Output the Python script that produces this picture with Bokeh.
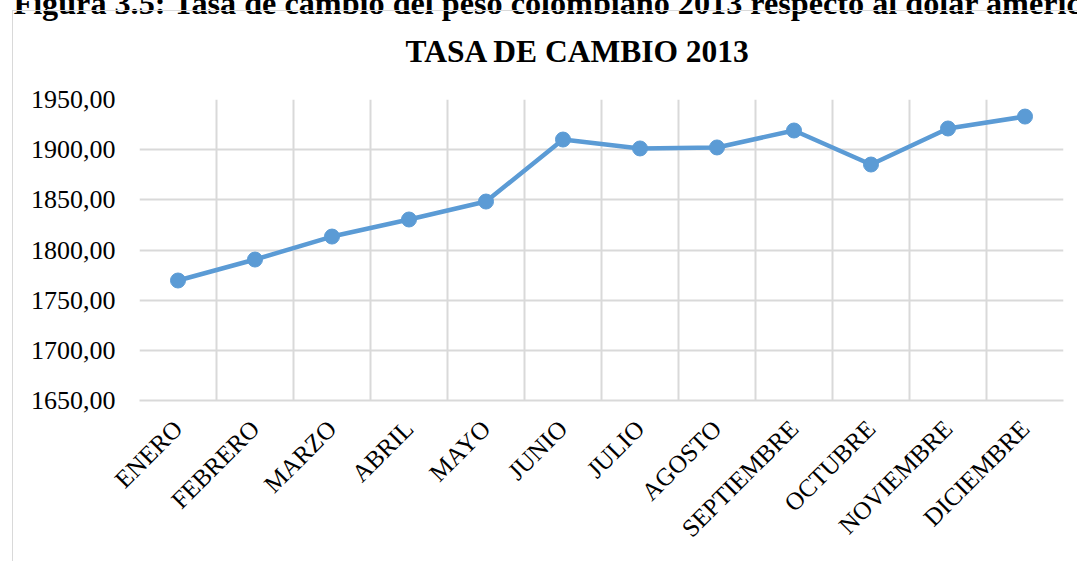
import math
from bokeh.plotting import figure
from bokeh.models import FixedTicker, Range1d, InlineStyleSheet, Title
from bokeh.embed import file_html
from bokeh.resources import INLINE

caption = "Figura 3.5: Tasa de cambio del peso colombiano 2013 respecto al dólar americano"
title = "TASA DE CAMBIO 2013"
months = ["ENERO", "FEBRERO", "MARZO", "ABRIL", "MAYO", "JUNIO", "JULIO",
          "AGOSTO", "SEPTIEMBRE", "OCTUBRE", "NOVIEMBRE", "DICIEMBRE"]
rates = [1769.6, 1790.5, 1813.4, 1830.4, 1848.3, 1910.1, 1901.2,
         1902.2, 1919.1, 1885.2, 1921.1, 1933.0]
y_ticks = [1650, 1700, 1750, 1800, 1850, 1900, 1950]
y_labels = ["1650,00", "1700,00", "1750,00", "1800,00", "1850,00", "1900,00", "1950,00"]

W, H = 1077, 561
SERIF = "Liberation Serif"
GRID = "#d9d9d9"
BLUE = "#5b9bd5"
FL, FT, FR, FB = 139, 99, 14, 161   # frame borders in canvas px

xs = [i + 0.5 for i in range(len(months))]
Y0, Y1 = 1650, 1950

p = figure(width=W, height=H, output_backend="svg", toolbar_location=None,
           x_range=Range1d(0, len(months)), y_range=Range1d(Y0, Y1),
           min_border_left=FL, min_border_right=FR, min_border_top=FT,
           min_border_bottom=FB)
p.outline_line_color = None
p.background_fill_color = "white"
p.border_fill_color = "white"

# page caption (top-most, partly above the window, as in the source image)
p.title.text = caption
p.title.align = "left"
p.title.offset = 13 - FL
p.title.standoff = -39
p.title.text_font = SERIF
p.title.text_font_size = "32.2px"
p.title.text_font_style = "bold"
p.title.text_color = "black"

# chart title, just above the plot area
p.add_layout(Title(text=title, align="left", offset=405 - FL, standoff=61,
                   text_font=SERIF, text_font_size="31.5px", text_font_style="bold",
                   text_color="black"), "above")

# outer chart box (left and top edges; the rest lies outside the window)
p.stylesheets = [InlineStyleSheet(css=(
    ":host{position:relative;}"
    ":host::after{content:'';position:absolute;left:12px;top:10px;"
    "width:1065px;height:551px;box-sizing:border-box;"
    "border-left:1.5px solid #d9d9d9;border-top:1.5px solid #d9d9d9;"
    "pointer-events:none;}"))]

# axes
p.xaxis.ticker = FixedTicker(ticks=xs)
p.xaxis.major_label_overrides = {x: m for x, m in zip(xs, months)}
p.xaxis.major_label_orientation = math.pi / 4
p.xaxis.major_label_text_font = SERIF
p.xaxis.major_label_text_font_size = "25px"
p.xaxis.major_label_text_color = "black"
p.xaxis.major_tick_out = 0
p.xaxis.major_tick_in = 0
p.xaxis.major_label_standoff = 24
p.xaxis.axis_line_color = GRID
p.xaxis.axis_line_width = 2
p.xaxis.major_tick_line_color = None
p.xaxis.minor_tick_line_color = None

p.yaxis.ticker = FixedTicker(ticks=y_ticks)
p.yaxis.major_label_overrides = {t: l for t, l in zip(y_ticks, y_labels)}
p.yaxis.major_label_text_font = SERIF
p.yaxis.major_label_text_font_size = "26px"
p.yaxis.major_label_text_color = "black"
p.yaxis.major_tick_out = 0
p.yaxis.major_tick_in = 0
p.yaxis.major_label_standoff = 24
p.yaxis.axis_line_color = None
p.yaxis.major_tick_line_color = None
p.yaxis.minor_tick_line_color = None

# grids
p.xgrid.ticker = FixedTicker(ticks=list(range(len(months) + 1)))
p.xgrid.grid_line_color = GRID
p.xgrid.grid_line_width = 2
p.ygrid.ticker = FixedTicker(ticks=y_ticks)
p.ygrid.grid_line_color = GRID
p.ygrid.grid_line_width = 2

# data
p.line(xs, rates, line_color=BLUE, line_width=4.5)
p.scatter(xs, rates, size=15, fill_color=BLUE, line_color=BLUE)

open("out.html", "w").write(file_html(p, INLINE))
